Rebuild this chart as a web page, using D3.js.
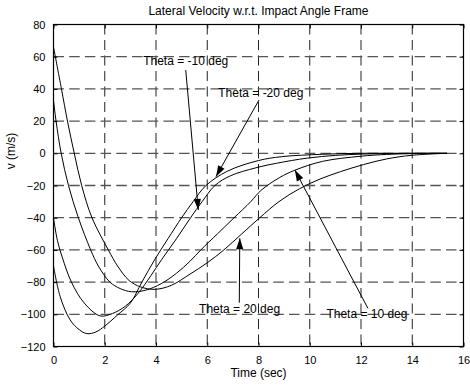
<!DOCTYPE html>
<html>
<head>
<meta charset="utf-8">
<script src="https://cdn.jsdelivr.net/npm/d3@7"></script>
<style>
html,body{margin:0;padding:0;background:#fff;}
svg{display:block;}
text{font-family:"Liberation Sans",Arial,Helvetica,sans-serif;fill:#000;}
</style>
</head>
<body>
<div id="chart"></div>
<script>
// ---- data ----
const title = "Lateral Velocity w.r.t. Impact Angle Frame";
const xLabel = "Time (sec)";
const yLabel = "v (m/s)";
const xTicks = [0, 2, 4, 6, 8, 10, 12, 14, 16];
const yTicks = [-120, -100, -80, -60, -40, -20, 0, 20, 40, 60, 80];

// curve starting at +66
const tA = [0, 0.31, 0.545, 0.81, 1.1, 1.5, 2.14, 2.5, 2.95, 3.4, 3.96, 4.6, 5.33, 6.0, 6.65, 7.35, 8.05, 8.8, 9.6, 10.4, 11.2, 12.1, 13.0, 14.0, 15.35];
const vA = [66, 40, 20, 0, -20, -40, -60, -70, -79, -83, -84.5, -82, -75, -68, -60, -50, -40, -30, -22, -16, -11.4, -7, -3.5, -1.2, 0];
// curve starting at +33
const tB = [0, 0.1, 0.3, 0.585, 0.97, 1.45, 1.75, 2.2, 2.6, 3.05, 3.6, 4.2, 4.8, 5.33, 5.75, 6.4, 7.05, 7.7, 8.1, 8.83, 9.42, 10.5, 12.0, 13.0, 14.0, 15.35];
const vB = [33, 20, 0, -20, -40, -60, -70, -80, -84, -86, -85, -81, -74.5, -67, -60, -50, -40, -30, -23, -15, -10.5, -5, -1.8, -0.7, -0.2, 0];
// curve starting at -40
const tC = [0, 0.15, 0.35, 0.7, 1.2, 1.82, 2.3, 2.8, 3.3, 3.8, 4.22, 4.8, 5.35, 5.8, 6.3, 6.9, 7.9, 8.7, 9.9, 11.0, 12.0, 13.0, 14.0, 15.35];
const vC = [-40, -54, -65, -80, -93, -101, -99.5, -95, -87, -76, -66, -53, -40, -30, -20, -14, -9, -6.2, -3, -1.3, -0.5, -0.2, 0, 0];
// curve starting at -70
const tD = [0, 0.26, 0.65, 1.0, 1.3, 1.65, 2.0, 2.5, 3.0, 3.45, 3.95, 4.47, 5.0, 5.45, 5.95, 6.8, 8.0, 8.9, 10.5, 12.0, 13.5, 15.35];
const vD = [-70, -89, -103.5, -109.5, -112, -111, -107.3, -100.4, -93, -80, -66, -53, -40, -30, -20, -11, -4.5, -2.1, -0.6, 0, 0, 0];

// annotations: label, text left x / baseline y, arrow start and tip (data units)
const annLabels = ["Theta = -10 deg", "Theta = -20 deg", "Theta = 20 deg", "Theta = 10 deg"];
const annTextX = [3.5, 6.43, 5.68, 10.65];
const annTextY = [54.8, 34.7, -99.5, -102.3];
const annFromX = [5.16, 8.02, 7.25, 12.27];
const annFromY = [51.7, 33.1, -92.8, -96.3];
const annToX = [5.65, 6.34, 7.27, 9.42];
const annToY = [-35.2, -14.5, -52.8, -10.4];

// ---- drawing ----
const W = 470, H = 386;
const L = 53.5, R = 463.5, T = 24.5, B = 346.5;

const svg = d3.select("#chart").append("svg").attr("width", W).attr("height", H);
const x = d3.scaleLinear().domain([0, 16]).range([L, R]);
const y = d3.scaleLinear().domain([-120, 80]).range([B, T]);

// grid
const g = svg.append("g");
g.selectAll("line.vg").data(xTicks.slice(1, -1)).join("line")
  .attr("x1", d => x(d)).attr("x2", d => x(d)).attr("y1", T).attr("y2", B)
  .attr("stroke", "#222").attr("stroke-width", 1).attr("stroke-dasharray", "10,5.5");
g.selectAll("line.hg").data(yTicks.slice(1, -1)).join("line")
  .attr("y1", d => y(d)).attr("y2", d => y(d)).attr("x1", L).attr("x2", R)
  .attr("stroke", "#555").attr("stroke-width", 1.3).attr("stroke-dasharray", "10.5,5.2");

// axes (inward ticks on all sides, MATLAB style)
const tl = -4;
svg.append("g").attr("transform", `translate(0,${B})`)
  .call(d3.axisBottom(x).tickValues(xTicks).tickSize(tl).tickPadding(10).tickFormat(d3.format("d")))
  .call(s => s.select(".domain").remove());
svg.append("g").attr("transform", `translate(0,${T})`)
  .call(d3.axisTop(x).tickValues(xTicks).tickSize(tl).tickFormat(""))
  .call(s => s.select(".domain").remove());
svg.append("g").attr("transform", `translate(${L},0)`)
  .call(d3.axisLeft(y).tickValues(yTicks).tickSize(tl).tickPadding(8).tickFormat(d3.format("d")))
  .call(s => s.select(".domain").remove());
svg.append("g").attr("transform", `translate(${R},0)`)
  .call(d3.axisRight(y).tickValues(yTicks).tickSize(tl).tickFormat(""))
  .call(s => s.select(".domain").remove());
svg.selectAll(".tick text").attr("font-size", 11).attr("font-family", "Liberation Sans, Arial, sans-serif").attr("fill", "#000");
svg.selectAll(".tick line").attr("stroke", "#000");

// box
svg.append("rect").attr("x", L).attr("y", T).attr("width", R - L).attr("height", B - T)
  .attr("fill", "none").attr("stroke", "#000").attr("stroke-width", 1.2);

// curves
const line = d3.line().x(d => x(d[0])).y(d => y(d[1])).curve(d3.curveCatmullRom.alpha(0.5));
const series = [[tA, vA], [tB, vB], [tC, vC], [tD, vD]];
svg.append("g").selectAll("path").data(series).join("path")
  .attr("d", s => line(s[0].map((t, i) => [t, s[1][i]])))
  .attr("fill", "none").attr("stroke", "#000").attr("stroke-width", 1);

// annotations
const ag = svg.append("g");
annLabels.forEach((lab, i) => {
  ag.append("text").attr("x", x(annTextX[i])).attr("y", y(annTextY[i]))
    .attr("font-size", 12).text(lab);
  const x1 = x(annFromX[i]), y1 = y(annFromY[i]), x2 = x(annToX[i]), y2 = y(annToY[i]);
  ag.append("line").attr("x1", x1).attr("y1", y1).attr("x2", x2).attr("y2", y2)
    .attr("stroke", "#000").attr("stroke-width", 1);
  const ang = Math.atan2(y2 - y1, x2 - x1), len = 11, hw = 3.6;
  const bx = x2 - len * Math.cos(ang), by = y2 - len * Math.sin(ang);
  const px = -Math.sin(ang) * hw, py = Math.cos(ang) * hw;
  ag.append("path").attr("d", `M${x2},${y2}L${bx + px},${by + py}L${bx - px},${by - py}Z`)
    .attr("fill", "#000");
});

// titles
svg.append("text").attr("x", (L + R) / 2).attr("y", 14.5).attr("text-anchor", "middle")
  .attr("font-size", 12).text(title);
svg.append("text").attr("x", (L + R) / 2).attr("y", 377).attr("text-anchor", "middle")
  .attr("font-size", 12).text(xLabel);
svg.append("text").attr("transform", "translate(14.5,151) rotate(-90)").attr("text-anchor", "middle")
  .attr("font-size", 12).text(yLabel);
</script>
</body>
</html>
